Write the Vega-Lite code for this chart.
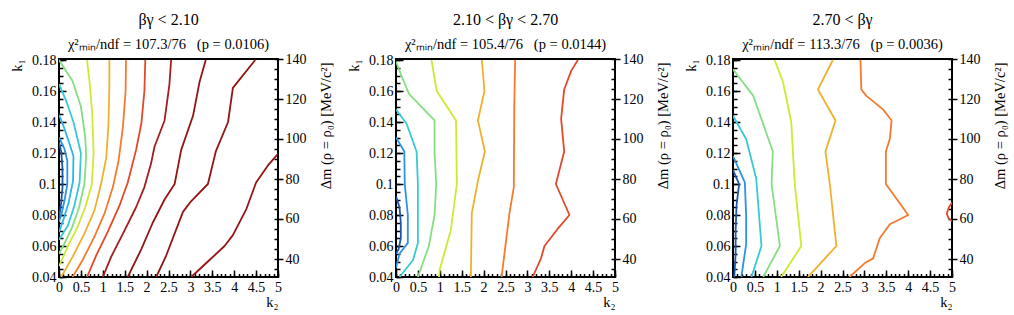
{
"$schema": "https://vega.github.io/schema/vega-lite/v6.json",
"padding": {"left": 8, "top": 11, "right": 5, "bottom": 3},
"bounds": "flush",
"spacing": 118,
"config": {
  "font": "Liberation Serif",
  "view": {"stroke": "black", "strokeWidth": 2},
  "axis": {"domain": false, "grid": false, "labelFont": "Liberation Serif", "labelFontSize": 14, "labelColor": "black", "tickColor": "black", "tickWidth": 1.5, "titleFont": "Liberation Serif", "titleFontWeight": "normal", "titleFontSize": 14.5, "titleColor": "black", "labelFlush": false, "labelOverlap": false},
  "title": {"font": "Liberation Serif", "fontSize": 16, "fontWeight": "normal", "color": "black", "subtitleFont": "Liberation Serif", "subtitleFontSize": 14.5, "subtitleColor": "black", "anchor": "middle", "offset": 1, "subtitlePadding": 9.5}
},
"datasets": {
"c": [
{"p":1,"lv":"L1","o":0,"k2":0,"k1":0.127},{"p":1,"lv":"L1","o":1,"k2":0.05,"k1":0.121},{"p":1,"lv":"L1","o":2,"k2":0.08,"k1":0.11},{"p":1,"lv":"L1","o":3,"k2":0.08,"k1":0.098},{"p":1,"lv":"L1","o":4,"k2":0.05,"k1":0.088},{"p":1,"lv":"L1","o":5,"k2":0.02,"k1":0.082},{"p":1,"lv":"L1","o":6,"k2":0,"k1":0.079},
{"p":1,"lv":"L2","o":0,"k2":0,"k1":0.13},{"p":1,"lv":"L2","o":1,"k2":0.12,"k1":0.123},{"p":1,"lv":"L2","o":2,"k2":0.19,"k1":0.115},{"p":1,"lv":"L2","o":3,"k2":0.19,"k1":0.1},{"p":1,"lv":"L2","o":4,"k2":0.13,"k1":0.09},{"p":1,"lv":"L2","o":5,"k2":0.06,"k1":0.081},{"p":1,"lv":"L2","o":6,"k2":0,"k1":0.0757},
{"p":1,"lv":"L3","o":0,"k2":0,"k1":0.1447},{"p":1,"lv":"L3","o":1,"k2":0.12,"k1":0.136},{"p":1,"lv":"L3","o":2,"k2":0.24,"k1":0.126},{"p":1,"lv":"L3","o":3,"k2":0.33,"k1":0.118},{"p":1,"lv":"L3","o":4,"k2":0.32,"k1":0.102},{"p":1,"lv":"L3","o":5,"k2":0.22,"k1":0.088},{"p":1,"lv":"L3","o":6,"k2":0.1,"k1":0.077},{"p":1,"lv":"L3","o":7,"k2":0,"k1":0.069},
{"p":1,"lv":"L4","o":0,"k2":0,"k1":0.1644},{"p":1,"lv":"L4","o":1,"k2":0.16,"k1":0.154},{"p":1,"lv":"L4","o":2,"k2":0.33,"k1":0.14},{"p":1,"lv":"L4","o":3,"k2":0.5,"k1":0.12},{"p":1,"lv":"L4","o":4,"k2":0.47,"k1":0.101},{"p":1,"lv":"L4","o":5,"k2":0.35,"k1":0.086},{"p":1,"lv":"L4","o":6,"k2":0.2,"k1":0.073},{"p":1,"lv":"L4","o":7,"k2":0,"k1":0.064},
{"p":1,"lv":"L5","o":0,"k2":0,"k1":0.18},{"p":1,"lv":"L5","o":1,"k2":0.31,"k1":0.1665},{"p":1,"lv":"L5","o":2,"k2":0.5,"k1":0.15},{"p":1,"lv":"L5","o":3,"k2":0.6,"k1":0.13},{"p":1,"lv":"L5","o":4,"k2":0.62,"k1":0.118},{"p":1,"lv":"L5","o":5,"k2":0.58,"k1":0.1},{"p":1,"lv":"L5","o":6,"k2":0.46,"k1":0.085},{"p":1,"lv":"L5","o":7,"k2":0.3,"k1":0.072},{"p":1,"lv":"L5","o":8,"k2":0.13,"k1":0.062},{"p":1,"lv":"L5","o":9,"k2":0,"k1":0.055},
{"p":1,"lv":"L6","o":0,"k2":0.64,"k1":0.18},{"p":1,"lv":"L6","o":1,"k2":0.7,"k1":0.165},{"p":1,"lv":"L6","o":2,"k2":0.76,"k1":0.145},{"p":1,"lv":"L6","o":3,"k2":0.79,"k1":0.12},{"p":1,"lv":"L6","o":4,"k2":0.75,"k1":0.1},{"p":1,"lv":"L6","o":5,"k2":0.6,"k1":0.085},{"p":1,"lv":"L6","o":6,"k2":0.42,"k1":0.072},{"p":1,"lv":"L6","o":7,"k2":0.22,"k1":0.061},{"p":1,"lv":"L6","o":8,"k2":0.08,"k1":0.052},{"p":1,"lv":"L6","o":9,"k2":0,"k1":0.047},
{"p":1,"lv":"L7","o":0,"k2":1.15,"k1":0.18},{"p":1,"lv":"L7","o":1,"k2":1.15,"k1":0.164},{"p":1,"lv":"L7","o":2,"k2":1.13,"k1":0.139},{"p":1,"lv":"L7","o":3,"k2":1.08,"k1":0.117},{"p":1,"lv":"L7","o":4,"k2":0.96,"k1":0.1},{"p":1,"lv":"L7","o":5,"k2":0.81,"k1":0.083},{"p":1,"lv":"L7","o":6,"k2":0.58,"k1":0.068},{"p":1,"lv":"L7","o":7,"k2":0.31,"k1":0.053},{"p":1,"lv":"L7","o":8,"k2":0.05,"k1":0.04},
{"p":1,"lv":"L8","o":0,"k2":1.53,"k1":0.18},{"p":1,"lv":"L8","o":1,"k2":1.52,"k1":0.16},{"p":1,"lv":"L8","o":2,"k2":1.46,"k1":0.137},{"p":1,"lv":"L8","o":3,"k2":1.36,"k1":0.115},{"p":1,"lv":"L8","o":4,"k2":1.23,"k1":0.098},{"p":1,"lv":"L8","o":5,"k2":1.04,"k1":0.081},{"p":1,"lv":"L8","o":6,"k2":0.81,"k1":0.066},{"p":1,"lv":"L8","o":7,"k2":0.54,"k1":0.051},{"p":1,"lv":"L8","o":8,"k2":0.31,"k1":0.04},
{"p":1,"lv":"L9","o":0,"k2":1.97,"k1":0.18},{"p":1,"lv":"L9","o":1,"k2":1.95,"k1":0.16},{"p":1,"lv":"L9","o":2,"k2":1.88,"k1":0.139},{"p":1,"lv":"L9","o":3,"k2":1.76,"k1":0.122},{"p":1,"lv":"L9","o":4,"k2":1.57,"k1":0.101},{"p":1,"lv":"L9","o":5,"k2":1.38,"k1":0.086},{"p":1,"lv":"L9","o":6,"k2":1.11,"k1":0.069},{"p":1,"lv":"L9","o":7,"k2":0.85,"k1":0.054},{"p":1,"lv":"L9","o":8,"k2":0.64,"k1":0.04},
{"p":1,"lv":"L10","o":0,"k2":2.56,"k1":0.18},{"p":1,"lv":"L10","o":1,"k2":2.52,"k1":0.164},{"p":1,"lv":"L10","o":2,"k2":2.41,"k1":0.141},{"p":1,"lv":"L10","o":3,"k2":2.18,"k1":0.124},{"p":1,"lv":"L10","o":4,"k2":2.1,"k1":0.113},{"p":1,"lv":"L10","o":5,"k2":1.95,"k1":0.098},{"p":1,"lv":"L10","o":6,"k2":1.76,"k1":0.085},{"p":1,"lv":"L10","o":7,"k2":1.46,"k1":0.068},{"p":1,"lv":"L10","o":8,"k2":1.19,"k1":0.053},{"p":1,"lv":"L10","o":9,"k2":1.0,"k1":0.04},
{"p":1,"lv":"L11","o":0,"k2":3.35,"k1":0.18},{"p":1,"lv":"L11","o":1,"k2":3.21,"k1":0.166},{"p":1,"lv":"L11","o":2,"k2":3.06,"k1":0.144},{"p":1,"lv":"L11","o":3,"k2":2.79,"k1":0.122},{"p":1,"lv":"L11","o":4,"k2":2.64,"k1":0.1},{"p":1,"lv":"L11","o":5,"k2":2.41,"k1":0.09},{"p":1,"lv":"L11","o":6,"k2":2.14,"k1":0.075},{"p":1,"lv":"L11","o":7,"k2":1.88,"k1":0.058},{"p":1,"lv":"L11","o":8,"k2":1.57,"k1":0.04},
{"p":1,"lv":"L12","o":0,"k2":4.48,"k1":0.18},{"p":1,"lv":"L12","o":1,"k2":3.97,"k1":0.162},{"p":1,"lv":"L12","o":2,"k2":3.86,"k1":0.14},{"p":1,"lv":"L12","o":3,"k2":3.58,"k1":0.121},{"p":1,"lv":"L12","o":4,"k2":3.4,"k1":0.1},{"p":1,"lv":"L12","o":5,"k2":3.02,"k1":0.089},{"p":1,"lv":"L12","o":6,"k2":2.83,"k1":0.082},{"p":1,"lv":"L12","o":7,"k2":2.45,"k1":0.054},{"p":1,"lv":"L12","o":8,"k2":2.22,"k1":0.04},
{"p":1,"lv":"L13","o":0,"k2":5,"k1":0.1195},{"p":1,"lv":"L13","o":1,"k2":4.77,"k1":0.112},{"p":1,"lv":"L13","o":2,"k2":4.5,"k1":0.101},{"p":1,"lv":"L13","o":3,"k2":4.28,"k1":0.084},{"p":1,"lv":"L13","o":4,"k2":3.97,"k1":0.067},{"p":1,"lv":"L13","o":5,"k2":3.78,"k1":0.06},{"p":1,"lv":"L13","o":6,"k2":3.4,"k1":0.05},{"p":1,"lv":"L13","o":7,"k2":3.02,"k1":0.04},
{"p":2,"lv":"L1","o":0,"k2":0,"k1":0.092},{"p":2,"lv":"L1","o":1,"k2":0.08,"k1":0.085},{"p":2,"lv":"L1","o":2,"k2":0.11,"k1":0.075},{"p":2,"lv":"L1","o":3,"k2":0.11,"k1":0.065},{"p":2,"lv":"L1","o":4,"k2":0.06,"k1":0.058},{"p":2,"lv":"L1","o":5,"k2":0,"k1":0.055},
{"p":2,"lv":"L2","o":0,"k2":0,"k1":0.13},{"p":2,"lv":"L2","o":1,"k2":0.19,"k1":0.121},{"p":2,"lv":"L2","o":2,"k2":0.2,"k1":0.1},{"p":2,"lv":"L2","o":3,"k2":0.27,"k1":0.08},{"p":2,"lv":"L2","o":4,"k2":0.27,"k1":0.062},{"p":2,"lv":"L2","o":5,"k2":0.08,"k1":0.055},{"p":2,"lv":"L2","o":6,"k2":0,"k1":0.046},
{"p":2,"lv":"L4","o":0,"k2":0,"k1":0.148},{"p":2,"lv":"L4","o":1,"k2":0.24,"k1":0.139},{"p":2,"lv":"L4","o":2,"k2":0.47,"k1":0.121},{"p":2,"lv":"L4","o":3,"k2":0.5,"k1":0.1},{"p":2,"lv":"L4","o":4,"k2":0.5,"k1":0.062},{"p":2,"lv":"L4","o":5,"k2":0.39,"k1":0.051},{"p":2,"lv":"L4","o":6,"k2":0.08,"k1":0.04},
{"p":2,"lv":"L5","o":0,"k2":0,"k1":0.179},{"p":2,"lv":"L5","o":1,"k2":0.15,"k1":0.168},{"p":2,"lv":"L5","o":2,"k2":0.3,"k1":0.158},{"p":2,"lv":"L5","o":3,"k2":0.88,"k1":0.141},{"p":2,"lv":"L5","o":4,"k2":0.88,"k1":0.12},{"p":2,"lv":"L5","o":5,"k2":0.92,"k1":0.1},{"p":2,"lv":"L5","o":6,"k2":0.88,"k1":0.08},{"p":2,"lv":"L5","o":7,"k2":0.75,"k1":0.06},{"p":2,"lv":"L5","o":8,"k2":0.5,"k1":0.04},
{"p":2,"lv":"L6","o":0,"k2":0.81,"k1":0.18},{"p":2,"lv":"L6","o":1,"k2":0.93,"k1":0.16},{"p":2,"lv":"L6","o":2,"k2":1.37,"k1":0.141},{"p":2,"lv":"L6","o":3,"k2":1.39,"k1":0.1},{"p":2,"lv":"L6","o":4,"k2":1.25,"k1":0.07},{"p":2,"lv":"L6","o":5,"k2":1.0,"k1":0.045},{"p":2,"lv":"L6","o":6,"k2":0.98,"k1":0.04},
{"p":2,"lv":"L7","o":0,"k2":1.96,"k1":0.18},{"p":2,"lv":"L7","o":1,"k2":2.02,"k1":0.16},{"p":2,"lv":"L7","o":2,"k2":1.87,"k1":0.141},{"p":2,"lv":"L7","o":3,"k2":2.03,"k1":0.121},{"p":2,"lv":"L7","o":4,"k2":1.87,"k1":0.102},{"p":2,"lv":"L7","o":5,"k2":1.73,"k1":0.081},{"p":2,"lv":"L7","o":6,"k2":1.71,"k1":0.04},
{"p":2,"lv":"L8","o":0,"k2":2.72,"k1":0.18},{"p":2,"lv":"L8","o":1,"k2":2.7,"k1":0.149},{"p":2,"lv":"L8","o":2,"k2":2.69,"k1":0.098},{"p":2,"lv":"L8","o":3,"k2":2.59,"k1":0.081},{"p":2,"lv":"L8","o":4,"k2":2.41,"k1":0.04},
{"p":2,"lv":"L9","o":0,"k2":4.15,"k1":0.18},{"p":2,"lv":"L9","o":1,"k2":4.0,"k1":0.173},{"p":2,"lv":"L9","o":2,"k2":3.84,"k1":0.161},{"p":2,"lv":"L9","o":3,"k2":3.77,"k1":0.142},{"p":2,"lv":"L9","o":4,"k2":3.84,"k1":0.121},{"p":2,"lv":"L9","o":5,"k2":3.65,"k1":0.1},{"p":2,"lv":"L9","o":6,"k2":3.96,"k1":0.08},{"p":2,"lv":"L9","o":7,"k2":3.69,"k1":0.071},{"p":2,"lv":"L9","o":8,"k2":3.39,"k1":0.06},{"p":2,"lv":"L9","o":9,"k2":3.31,"k1":0.052},{"p":2,"lv":"L9","o":10,"k2":3.12,"k1":0.04},
{"p":3,"lv":"L1","o":0,"k2":0,"k1":0.109},{"p":3,"lv":"L1","o":1,"k2":0.14,"k1":0.1},{"p":3,"lv":"L1","o":2,"k2":0.08,"k1":0.086},{"p":3,"lv":"L1","o":3,"k2":0.06,"k1":0.07},{"p":3,"lv":"L1","o":4,"k2":0.06,"k1":0.055},{"p":3,"lv":"L1","o":5,"k2":0.03,"k1":0.04},
{"p":3,"lv":"L2","o":0,"k2":0,"k1":0.118},{"p":3,"lv":"L2","o":1,"k2":0.27,"k1":0.101},{"p":3,"lv":"L2","o":2,"k2":0.3,"k1":0.08},{"p":3,"lv":"L2","o":3,"k2":0.3,"k1":0.061},{"p":3,"lv":"L2","o":4,"k2":0.19,"k1":0.04},
{"p":3,"lv":"L4","o":0,"k2":0,"k1":0.144},{"p":3,"lv":"L4","o":1,"k2":0.3,"k1":0.129},{"p":3,"lv":"L4","o":2,"k2":0.53,"k1":0.1035},{"p":3,"lv":"L4","o":3,"k2":0.65,"k1":0.06},{"p":3,"lv":"L4","o":4,"k2":0.42,"k1":0.04},
{"p":3,"lv":"L5","o":0,"k2":0,"k1":0.174},{"p":3,"lv":"L5","o":1,"k2":0.46,"k1":0.157},{"p":3,"lv":"L5","o":2,"k2":0.91,"k1":0.121},{"p":3,"lv":"L5","o":3,"k2":0.88,"k1":0.1},{"p":3,"lv":"L5","o":4,"k2":1.07,"k1":0.06},{"p":3,"lv":"L5","o":5,"k2":0.69,"k1":0.04},
{"p":3,"lv":"L6","o":0,"k2":0.95,"k1":0.18},{"p":3,"lv":"L6","o":1,"k2":1.14,"k1":0.166},{"p":3,"lv":"L6","o":2,"k2":1.33,"k1":0.14},{"p":3,"lv":"L6","o":3,"k2":1.41,"k1":0.1},{"p":3,"lv":"L6","o":4,"k2":1.56,"k1":0.06},{"p":3,"lv":"L6","o":5,"k2":1.1,"k1":0.04},
{"p":3,"lv":"L7","o":0,"k2":2.28,"k1":0.18},{"p":3,"lv":"L7","o":1,"k2":1.94,"k1":0.161},{"p":3,"lv":"L7","o":2,"k2":2.34,"k1":0.141},{"p":3,"lv":"L7","o":3,"k2":2.11,"k1":0.121},{"p":3,"lv":"L7","o":4,"k2":2.21,"k1":0.1},{"p":3,"lv":"L7","o":5,"k2":2.36,"k1":0.06},{"p":3,"lv":"L7","o":6,"k2":1.71,"k1":0.04},
{"p":3,"lv":"L8","o":0,"k2":2.91,"k1":0.18},{"p":3,"lv":"L8","o":1,"k2":2.93,"k1":0.161},{"p":3,"lv":"L8","o":2,"k2":3.04,"k1":0.157},{"p":3,"lv":"L8","o":3,"k2":3.43,"k1":0.148},{"p":3,"lv":"L8","o":4,"k2":3.62,"k1":0.141},{"p":3,"lv":"L8","o":5,"k2":3.58,"k1":0.129},{"p":3,"lv":"L8","o":6,"k2":3.49,"k1":0.121},{"p":3,"lv":"L8","o":7,"k2":3.49,"k1":0.1},{"p":3,"lv":"L8","o":8,"k2":4.0,"k1":0.08},{"p":3,"lv":"L8","o":9,"k2":3.58,"k1":0.074},{"p":3,"lv":"L8","o":10,"k2":3.35,"k1":0.065},{"p":3,"lv":"L8","o":11,"k2":3.2,"k1":0.052},{"p":3,"lv":"L8","o":12,"k2":3.01,"k1":0.049},{"p":3,"lv":"L8","o":13,"k2":2.66,"k1":0.04},
{"p":3,"lv":"L9","o":0,"k2":5,"k1":0.088},{"p":3,"lv":"L9","o":1,"k2":4.93,"k1":0.085},{"p":3,"lv":"L9","o":2,"k2":4.88,"k1":0.081},{"p":3,"lv":"L9","o":3,"k2":4.92,"k1":0.078},{"p":3,"lv":"L9","o":4,"k2":5,"k1":0.076}
],
"one": [{"k2": 0, "k1": 0.1}]
},
"hconcat": [
{
 "width": 219, "height": 218,
 "title": {"text": "βγ < 2.10", "subtitle": "χ²ₘᵢₙ/ndf = 107.3/76\u00a0\u00a0\u00a0(p = 0.0106)"},
 "layer": [
  {"data": {"name": "c"}, "transform": [{"filter": "datum.p == 1"}],
   "mark": {"type": "line", "strokeWidth": 1.8, "clip": true, "strokeJoin": "round"},
   "encoding": {
    "x": {"field": "k2", "type": "quantitative", "scale": {"domain": [0, 5], "nice": false, "zero": false},
          "axis": {"orient": "bottom", "values": [0,0.5,1,1.5,2,2.5,3,3.5,4,4.5,5], "format": "~g", "tickSize": -7, "labelPadding": 10, "title": "k₂", "titleX": 219, "titleY": 29, "titleAlign": "right", "titleBaseline": "alphabetic", "titleAngle": 0}},
    "y": {"field": "k1", "type": "quantitative", "scale": {"domain": [0.04, 0.1806452], "nice": false, "zero": false},
          "axis": {"orient": "left", "values": [0.04,0.06,0.08,0.1,0.12,0.14,0.16,0.18], "format": "~g", "tickSize": -7, "labelPadding": 10, "title": "k₁", "titleX": -38, "titleY": 0, "titleAngle": 270, "titleAlign": "right", "titleBaseline": "alphabetic"}},
    "color": {"field": "lv", "type": "nominal", "legend": null,
              "scale": {"domain": ["L1","L2","L3","L4","L5","L6","L7","L8","L9","L10","L11","L12","L13"], "range": ["#1c56a8","#2b93e3","#2cb5e8","#38c9d6","#86dd82","#cfe832","#f0b02c","#f57a2e","#e2492a","#a51d1d","#951414","#951414","#951414"]}},
    "order": {"field": "o", "type": "quantitative"}
   }},
  {"data": {"name": "one"}, "mark": {"type": "point", "opacity": 0},
   "encoding": {
    "x": {"field": "k2", "type": "quantitative",
          "axis": {"orient": "bottom", "values": [0,0.1,0.2,0.3,0.4,0.5,0.6,0.7,0.8,0.9,1,1.1,1.2,1.3,1.4,1.5,1.6,1.7,1.8,1.9,2,2.1,2.2,2.3,2.4,2.5,2.6,2.7,2.8,2.9,3,3.1,3.2,3.3,3.4,3.5,3.6,3.7,3.8,3.9,4,4.1,4.2,4.3,4.4,4.5,4.6,4.7,4.8,4.9,5], "labels": false, "tickSize": -3.5, "title": null}},
    "y": {"field": "k1", "type": "quantitative",
          "axis": {"orient": "left", "values": [0.04,0.045,0.05,0.055,0.06,0.065,0.07,0.075,0.08,0.085,0.09,0.095,0.1,0.105,0.11,0.115,0.12,0.125,0.13,0.135,0.14,0.145,0.15,0.155,0.16,0.165,0.17,0.175,0.18], "labels": false, "tickSize": -4, "title": null}}
   }},
  {"data": {"name": "one"}, "mark": {"type": "point", "opacity": 0},
   "encoding": {
    "x": {"field": "k2", "type": "quantitative", "axis": null},
    "y": {"field": "k1", "type": "quantitative",
          "axis": {"orient": "right", "values": [0.0516129,0.0774194,0.1032258,0.1290323,0.1548387,0.1806452], "labelExpr": "format(datum.value * 775, '.0f')", "tickSize": 5, "labelPadding": 2, "title": "Δm (ρ = ρ₀) [MeV/c²]", "titleAngle": 270, "titleAlign": "right", "titleBaseline": "alphabetic", "titleX": 52, "titleY": 3}}
   }},
  {"data": {"name": "one"}, "mark": {"type": "point", "opacity": 0},
   "encoding": {
    "x": {"field": "k2", "type": "quantitative", "axis": null},
    "y": {"field": "k1", "type": "quantitative",
          "axis": {"orient": "right", "values": [0.0451613,0.0516129,0.0580645,0.0645161,0.0709677,0.0774194,0.083871,0.0903226,0.0967742,0.1032258,0.1096774,0.116129,0.1225806,0.1290323,0.1354839,0.1419355,0.1483871,0.1548387,0.1612903,0.1677419,0.1741935,0.1806452], "labels": false, "tickSize": -4, "title": null}}
   }}
 ],
 "resolve": {"axis": {"x": "independent", "y": "independent"}}
},
{
 "width": 219, "height": 218,
 "title": {"text": "2.10 < βγ < 2.70", "subtitle": "χ²ₘᵢₙ/ndf = 105.4/76\u00a0\u00a0\u00a0(p = 0.0144)"},
 "layer": [
  {"data": {"name": "c"}, "transform": [{"filter": "datum.p == 2"}],
   "mark": {"type": "line", "strokeWidth": 1.8, "clip": true, "strokeJoin": "round"},
   "encoding": {
    "x": {"field": "k2", "type": "quantitative", "scale": {"domain": [0, 5], "nice": false, "zero": false},
          "axis": {"orient": "bottom", "values": [0,0.5,1,1.5,2,2.5,3,3.5,4,4.5,5], "format": "~g", "tickSize": -7, "labelPadding": 10, "title": "k₂", "titleX": 219, "titleY": 29, "titleAlign": "right", "titleBaseline": "alphabetic", "titleAngle": 0}},
    "y": {"field": "k1", "type": "quantitative", "scale": {"domain": [0.04, 0.1806452], "nice": false, "zero": false},
          "axis": {"orient": "left", "values": [0.04,0.06,0.08,0.1,0.12,0.14,0.16,0.18], "format": "~g", "tickSize": -7, "labelPadding": 10, "title": "k₁", "titleX": -38, "titleY": 0, "titleAngle": 270, "titleAlign": "right", "titleBaseline": "alphabetic"}},
    "color": {"field": "lv", "type": "nominal", "legend": null,
              "scale": {"domain": ["L1","L2","L3","L4","L5","L6","L7","L8","L9","L10","L11","L12","L13"], "range": ["#1c56a8","#2b93e3","#2cb5e8","#38c9d6","#86dd82","#cfe832","#f0b02c","#f57a2e","#e2492a","#a51d1d","#951414","#951414","#951414"]}},
    "order": {"field": "o", "type": "quantitative"}
   }},
  {"data": {"name": "one"}, "mark": {"type": "point", "opacity": 0},
   "encoding": {
    "x": {"field": "k2", "type": "quantitative",
          "axis": {"orient": "bottom", "values": [0,0.1,0.2,0.3,0.4,0.5,0.6,0.7,0.8,0.9,1,1.1,1.2,1.3,1.4,1.5,1.6,1.7,1.8,1.9,2,2.1,2.2,2.3,2.4,2.5,2.6,2.7,2.8,2.9,3,3.1,3.2,3.3,3.4,3.5,3.6,3.7,3.8,3.9,4,4.1,4.2,4.3,4.4,4.5,4.6,4.7,4.8,4.9,5], "labels": false, "tickSize": -3.5, "title": null}},
    "y": {"field": "k1", "type": "quantitative",
          "axis": {"orient": "left", "values": [0.04,0.045,0.05,0.055,0.06,0.065,0.07,0.075,0.08,0.085,0.09,0.095,0.1,0.105,0.11,0.115,0.12,0.125,0.13,0.135,0.14,0.145,0.15,0.155,0.16,0.165,0.17,0.175,0.18], "labels": false, "tickSize": -4, "title": null}}
   }},
  {"data": {"name": "one"}, "mark": {"type": "point", "opacity": 0},
   "encoding": {
    "x": {"field": "k2", "type": "quantitative", "axis": null},
    "y": {"field": "k1", "type": "quantitative",
          "axis": {"orient": "right", "values": [0.0516129,0.0774194,0.1032258,0.1290323,0.1548387,0.1806452], "labelExpr": "format(datum.value * 775, '.0f')", "tickSize": 5, "labelPadding": 2, "title": "Δm (ρ = ρ₀) [MeV/c²]", "titleAngle": 270, "titleAlign": "right", "titleBaseline": "alphabetic", "titleX": 52, "titleY": 3}}
   }},
  {"data": {"name": "one"}, "mark": {"type": "point", "opacity": 0},
   "encoding": {
    "x": {"field": "k2", "type": "quantitative", "axis": null},
    "y": {"field": "k1", "type": "quantitative",
          "axis": {"orient": "right", "values": [0.0451613,0.0516129,0.0580645,0.0645161,0.0709677,0.0774194,0.083871,0.0903226,0.0967742,0.1032258,0.1096774,0.116129,0.1225806,0.1290323,0.1354839,0.1419355,0.1483871,0.1548387,0.1612903,0.1677419,0.1741935,0.1806452], "labels": false, "tickSize": -4, "title": null}}
   }}
 ],
 "resolve": {"axis": {"x": "independent", "y": "independent"}}
},
{
 "width": 219, "height": 218,
 "title": {"text": "2.70 < βγ", "subtitle": "χ²ₘᵢₙ/ndf = 113.3/76\u00a0\u00a0\u00a0(p = 0.0036)"},
 "layer": [
  {"data": {"name": "c"}, "transform": [{"filter": "datum.p == 3"}],
   "mark": {"type": "line", "strokeWidth": 1.8, "clip": true, "strokeJoin": "round"},
   "encoding": {
    "x": {"field": "k2", "type": "quantitative", "scale": {"domain": [0, 5], "nice": false, "zero": false},
          "axis": {"orient": "bottom", "values": [0,0.5,1,1.5,2,2.5,3,3.5,4,4.5,5], "format": "~g", "tickSize": -7, "labelPadding": 10, "title": "k₂", "titleX": 219, "titleY": 29, "titleAlign": "right", "titleBaseline": "alphabetic", "titleAngle": 0}},
    "y": {"field": "k1", "type": "quantitative", "scale": {"domain": [0.04, 0.1806452], "nice": false, "zero": false},
          "axis": {"orient": "left", "values": [0.04,0.06,0.08,0.1,0.12,0.14,0.16,0.18], "format": "~g", "tickSize": -7, "labelPadding": 10, "title": "k₁", "titleX": -38, "titleY": 0, "titleAngle": 270, "titleAlign": "right", "titleBaseline": "alphabetic"}},
    "color": {"field": "lv", "type": "nominal", "legend": null,
              "scale": {"domain": ["L1","L2","L3","L4","L5","L6","L7","L8","L9","L10","L11","L12","L13"], "range": ["#1c56a8","#2b93e3","#2cb5e8","#38c9d6","#86dd82","#cfe832","#f0b02c","#f57a2e","#e2492a","#a51d1d","#951414","#951414","#951414"]}},
    "order": {"field": "o", "type": "quantitative"}
   }},
  {"data": {"name": "one"}, "mark": {"type": "point", "opacity": 0},
   "encoding": {
    "x": {"field": "k2", "type": "quantitative",
          "axis": {"orient": "bottom", "values": [0,0.1,0.2,0.3,0.4,0.5,0.6,0.7,0.8,0.9,1,1.1,1.2,1.3,1.4,1.5,1.6,1.7,1.8,1.9,2,2.1,2.2,2.3,2.4,2.5,2.6,2.7,2.8,2.9,3,3.1,3.2,3.3,3.4,3.5,3.6,3.7,3.8,3.9,4,4.1,4.2,4.3,4.4,4.5,4.6,4.7,4.8,4.9,5], "labels": false, "tickSize": -3.5, "title": null}},
    "y": {"field": "k1", "type": "quantitative",
          "axis": {"orient": "left", "values": [0.04,0.045,0.05,0.055,0.06,0.065,0.07,0.075,0.08,0.085,0.09,0.095,0.1,0.105,0.11,0.115,0.12,0.125,0.13,0.135,0.14,0.145,0.15,0.155,0.16,0.165,0.17,0.175,0.18], "labels": false, "tickSize": -4, "title": null}}
   }},
  {"data": {"name": "one"}, "mark": {"type": "point", "opacity": 0},
   "encoding": {
    "x": {"field": "k2", "type": "quantitative", "axis": null},
    "y": {"field": "k1", "type": "quantitative",
          "axis": {"orient": "right", "values": [0.0516129,0.0774194,0.1032258,0.1290323,0.1548387,0.1806452], "labelExpr": "format(datum.value * 775, '.0f')", "tickSize": 5, "labelPadding": 2, "title": "Δm (ρ = ρ₀) [MeV/c²]", "titleAngle": 270, "titleAlign": "right", "titleBaseline": "alphabetic", "titleX": 52, "titleY": 3}}
   }},
  {"data": {"name": "one"}, "mark": {"type": "point", "opacity": 0},
   "encoding": {
    "x": {"field": "k2", "type": "quantitative", "axis": null},
    "y": {"field": "k1", "type": "quantitative",
          "axis": {"orient": "right", "values": [0.0451613,0.0516129,0.0580645,0.0645161,0.0709677,0.0774194,0.083871,0.0903226,0.0967742,0.1032258,0.1096774,0.116129,0.1225806,0.1290323,0.1354839,0.1419355,0.1483871,0.1548387,0.1612903,0.1677419,0.1741935,0.1806452], "labels": false, "tickSize": -4, "title": null}}
   }}
 ],
 "resolve": {"axis": {"x": "independent", "y": "independent"}}
}
]
}
